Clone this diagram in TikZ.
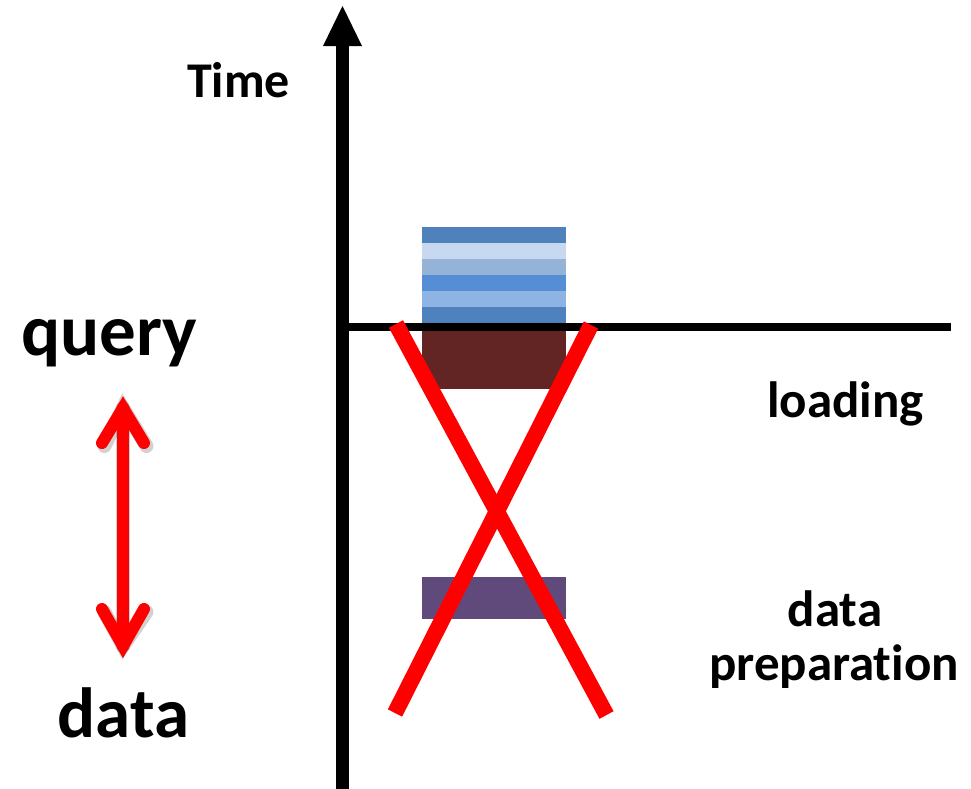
\documentclass[tikz,border=0pt]{standalone}
\usepackage{fontspec}
\setmainfont{Carlito}[Ligatures={NoCommon}]
\begin{document}
\begin{tikzpicture}[x=1pt,y=-1pt,
  lbl/.style={inner sep=0pt, font=\bfseries},
  band/.style={draw=none},
  axisline/.style={line width=13pt, black},
  baseline/.style={line width=7.7pt, black},
  cross/.style={line width=16pt, red},
  dblarrow/.style={line width=12pt, red, line cap=round, line join=miter},
]
\useasboundingbox (0,0) rectangle (971,788);
\fill[white] (0,0) rectangle (971,788);

% stacked loading bar above the baseline
\fill[band, fill={rgb,255:red,79;green,129;blue,189}]  (422,227) rectangle (566,243);
\fill[band, fill={rgb,255:red,198;green,217;blue,241}] (422,243) rectangle (566,259);
\fill[band, fill={rgb,255:red,149;green,179;blue,215}] (422,259) rectangle (566,275);
\fill[band, fill={rgb,255:red,85;green,142;blue,213}]  (422,275) rectangle (566,291);
\fill[band, fill={rgb,255:red,142;green,180;blue,227}] (422,291) rectangle (566,307);
\fill[band, fill={rgb,255:red,79;green,129;blue,189}]  (422,307) rectangle (566,324);

% loading block below the baseline
\fill[band, fill={rgb,255:red,99;green,37;blue,35}] (422,324) rectangle (566,389);

% data preparation block
\fill[band, fill={rgb,255:red,96;green,74;blue,123}] (422,577) rectangle (566,619);

% axes
\coordinate (hl) at (342,327.2);
\coordinate (hr) at (950.7,327.2);
\draw[baseline] (hl) -- (hr);
\coordinate (vb) at (342.5,790);
\coordinate (vt) at (342.5,45);
\draw[axisline] (vb) -- (vt);
\fill[black] (323,46) -- (342.5,6) -- (362,46) -- cycle;

% red cross
\coordinate (c1) at (396,324);
\coordinate (c2) at (606.5,715);
\coordinate (c3) at (591,325);
\coordinate (c4) at (395,713);
\draw[cross] (c1) -- (c2);
\draw[cross] (c3) -- (c4);

% query <-> data arrow with soft shadow
\coordinate (at) at (123,408);
\coordinate (ab) at (123,646);
\begin{scope}[opacity=0.18]
  \draw[dblarrow, black, line width=14pt, shift={(2.5,3)}] (102,443) -- (at) -- (144,443);
  \draw[dblarrow, black, line width=14pt, shift={(2.5,3)}] (102,609) -- (ab) -- (144,609);
  \draw[dblarrow, black, line width=14pt, shift={(2.5,3)}] (at) -- (ab);
\end{scope}
\draw[dblarrow] (at) -- (ab);
\draw[dblarrow] (102,443) -- (at) -- (144,443);
\draw[dblarrow] (102,609) -- (ab) -- (144,609);

% labels
\node[lbl, anchor=base west, font=\fontsize{50}{60}\selectfont\bfseries] (time) at (187,97) {Time};
\node[lbl, anchor=base, font=\fontsize{73}{87}\selectfont\bfseries] (query) at (109,355) {query};
\node[lbl, anchor=base, font=\fontsize{71}{85}\selectfont\bfseries] (data) at (123.5,737) {data};
\node[lbl, anchor=base, font=\fontsize{51}{61}\selectfont\bfseries] (loading) at (845.5,417) {loading};
\node[lbl, anchor=base, font=\fontsize{51}{61}\selectfont\bfseries] (dp1) at (835,626) {data};
\node[lbl, anchor=base, font=\fontsize{51}{61}\selectfont\bfseries] (dp2) at (834,680) {preparation};
\end{tikzpicture}
\end{document}
